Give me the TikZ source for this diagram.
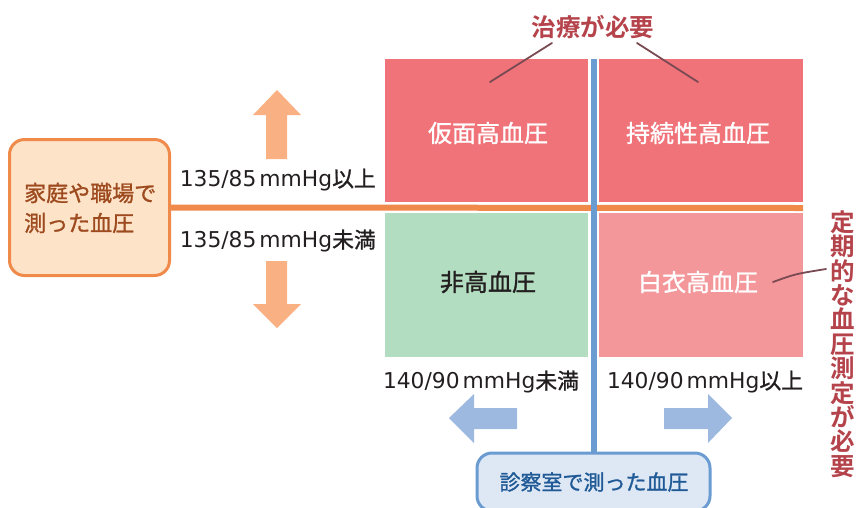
\documentclass[tikz,border=0pt]{standalone}
\usepackage{fontspec}
\newfontfamily\jp{Noto Sans CJK JP}[RawFeature={embolden=1.2}]
\newfontfamily\jpb{Noto Sans CJK JP Bold}
\newfontfamily\lat{DejaVu Sans}
\definecolor{qred}{HTML}{F0737A}
\definecolor{qgreen}{HTML}{B2DDC0}
\definecolor{qpink}{HTML}{F4979B}
\definecolor{orline}{HTML}{F08A4B}
\definecolor{orarrow}{HTML}{F9B083}
\definecolor{orfill}{HTML}{FDE3C8}
\definecolor{ortext}{HTML}{9E4A1F}
\definecolor{blline}{HTML}{6A9BD1}
\definecolor{blarrow}{HTML}{9DB9E0}
\definecolor{blfill}{HTML}{DEE8F5}
\definecolor{bltext}{HTML}{1F5A96}
\definecolor{dtext}{HTML}{231F20}
\definecolor{redtext}{HTML}{B5434B}
\definecolor{pointer}{HTML}{7A4A52}
\newcommand{\mylbl}[2]{{\lat #1\hspace{3pt}mmHg}{\jp #2}}
\tikzset{
  quad/.style={inner sep=0pt, outer sep=0pt},
  qtext/.style={font=\jp\fontsize{24}{26}\selectfont},
  lbl/.style={font=\fontsize{21.8}{24}\selectfont, text=dtext, inner sep=0pt},
  redlbl/.style={font=\jpb\fontsize{24.5}{24.4}\selectfont, text=redtext, inner sep=0pt, align=center},
  ptr/.style={draw=pointer, line width=1.8pt, line cap=round},
}
\begin{document}
\begin{tikzpicture}[x=1pt,y=-1pt]
\useasboundingbox (0,0) rectangle (856,507);
\clip (0,0) rectangle (856,507);
% quadrants
\node[quad, fill=qred, minimum width=203pt, minimum height=143pt] (tl) at (486.5,130.5) {};
\node[quad, fill=qred, minimum width=204pt, minimum height=143pt] (tr) at (701,130.5) {};
\node[quad, fill=qgreen, minimum width=203pt, minimum height=144pt] (bl) at (486.5,285) {};
\node[quad, fill=qpink, minimum width=204pt, minimum height=144pt] (br) at (701,285) {};
\node[qtext, text=white] (tlt) at (488,133) {仮面高血圧};
\node[qtext, text=white] (trt) at (698,133) {持続性高血圧};
\node[qtext, text=dtext] (blt) at (488,282) {非高血圧};
\node[qtext, text=white] (brt) at (698,282) {白衣高血圧};
% left box
\node[draw=orline, line width=3pt, fill=orfill, rounded corners=15pt,
      minimum width=160pt, minimum height=136pt, inner sep=0pt] (home) at (89.5,207.5) {};
\node[font=\jp\fontsize{22}{30}\selectfont, text=ortext, align=left, anchor=west, inner sep=0pt]
      (homet) at (24,208) {家庭や職場で\\測った血圧};
% bottom box
\node[draw=blline, line width=3pt, fill=blfill, rounded corners=15pt,
      minimum width=233pt, minimum height=58pt, inner sep=0pt] (clinic) at (593.5,482) {};
\node[font=\jp\fontsize{21}{24}\selectfont, text=bltext, inner sep=0pt] (clinict) at (594,482) {診察室で測った血圧};
% lines
\coordinate (hend) at (803,208);
\coordinate (vtop) at (594,59);
\draw[orline, line width=6pt] (home.east) -- (hend);
\draw[blline, line width=6pt] (vtop) -- (clinic.north -| vtop);
% arrows
\fill[orarrow] (277,90) -- (301,115) -- (287,115) -- (287,159) -- (266,159) -- (266,115) -- (253,115) -- cycle;
\fill[orarrow] (277,328) -- (301,304) -- (287,304) -- (287,261) -- (266,261) -- (266,304) -- (253,304) -- cycle;
\fill[blarrow] (449,418) -- (474,394) -- (474,408) -- (517,408) -- (517,429) -- (474,429) -- (474,443) -- cycle;
\fill[blarrow] (732,418) -- (708,394) -- (708,408) -- (664,408) -- (664,429) -- (708,429) -- (708,443) -- cycle;
% labels
\node[lbl, anchor=east] (l1) at (376,180) {\mylbl{135/85}{以上}};
\node[lbl, anchor=east] (l2) at (376,241) {\mylbl{135/85}{未満}};
\node[lbl] (l3) at (481,382) {\mylbl{140/90}{未満}};
\node[lbl] (l4) at (705,382) {\mylbl{140/90}{以上}};
% red annotations
\node[redlbl] (treat) at (593,27) {治療が必要};
\coordinate (p1) at (490,82);
\coordinate (p2) at (698,82);
\draw[ptr] (552,43) -- (p1);
\draw[ptr] (637,43) -- (p2);
\node[redlbl] (regular) at (843,344) {定\\期\\的\\な\\血\\圧\\測\\定\\が\\必\\要};
\coordinate (p3) at (773,282);
\draw[ptr] (p3) .. controls (795,274) .. (826,269);
\end{tikzpicture}
\end{document}
